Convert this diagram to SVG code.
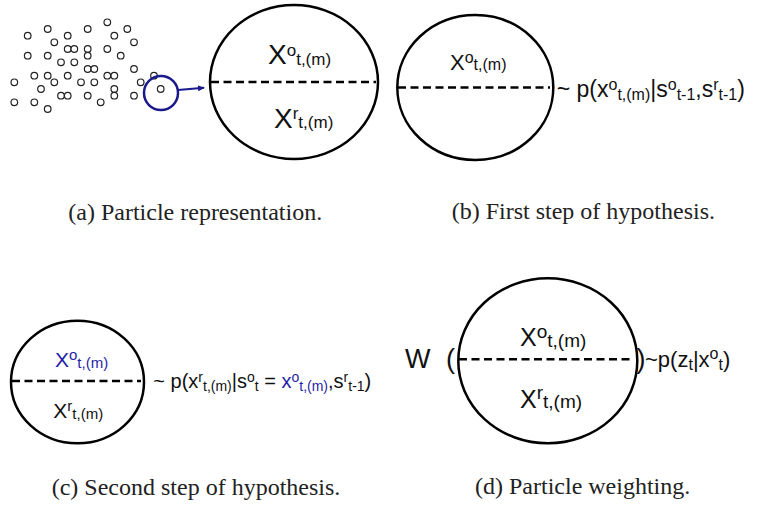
<svg xmlns="http://www.w3.org/2000/svg" width="759" height="510" viewBox="0 0 759 510">
<style>
.ell{fill:none;stroke:#000;stroke-width:2.5}
.dash{stroke:#000;stroke-width:2.6;stroke-dasharray:8 4.5}
.m{font-family:"Liberation Sans",Arial,sans-serif;fill:#111}
.cap{font-family:"Liberation Serif","Times New Roman",serif;font-size:24px;fill:#222}
.p{fill:#fff;stroke:#222;stroke-width:1.2}
.b{fill:#1f1fa8}
</style>
<defs>
<marker id="ah" markerWidth="8" markerHeight="8" refX="6" refY="3" orient="auto" markerUnits="userSpaceOnUse">
<path d="M0,0 L7,3 L0,6 Z" fill="#1a1a8c"/>
</marker>
</defs>
<rect width="759" height="510" fill="#fff"/>

<g id="particles">
<circle class="p" cx="27.7" cy="35.7" r="3.3"/><circle class="p" cx="47.7" cy="29" r="3.3"/><circle class="p" cx="67.7" cy="35.7" r="3.3"/><circle class="p" cx="87.7" cy="29" r="3.3"/><circle class="p" cx="107.3" cy="22.3" r="3.3"/><circle class="p" cx="127.3" cy="29" r="3.3"/><circle class="p" cx="114.3" cy="35.7" r="3.3"/><circle class="p" cx="54.3" cy="42.3" r="3.3"/><circle class="p" cx="134" cy="42.3" r="3.3"/><circle class="p" cx="27.7" cy="55.7" r="3.3"/><circle class="p" cx="47.7" cy="55.7" r="3.3"/><circle class="p" cx="67.7" cy="49" r="3.3"/><circle class="p" cx="74.3" cy="49" r="3.3"/><circle class="p" cx="87.7" cy="49" r="3.3"/><circle class="p" cx="87.7" cy="55.7" r="3.3"/><circle class="p" cx="107.3" cy="49" r="3.3"/><circle class="p" cx="120.7" cy="55.7" r="3.3"/><circle class="p" cx="61" cy="62.3" r="3.3"/><circle class="p" cx="74.3" cy="62.3" r="3.3"/><circle class="p" cx="87.7" cy="69" r="3.3"/><circle class="p" cx="94.3" cy="69" r="3.3"/><circle class="p" cx="134" cy="69" r="3.3"/><circle class="p" cx="154" cy="75.7" r="3.3"/><circle class="p" cx="34.3" cy="75.7" r="3.3"/><circle class="p" cx="47.7" cy="75.7" r="3.3"/><circle class="p" cx="54.3" cy="82.3" r="3.3"/><circle class="p" cx="67.7" cy="75.7" r="3.3"/><circle class="p" cx="81" cy="82.3" r="3.3"/><circle class="p" cx="94.3" cy="82.3" r="3.3"/><circle class="p" cx="107.3" cy="75.7" r="3.3"/><circle class="p" cx="114.3" cy="75.7" r="3.3"/><circle class="p" cx="140.7" cy="82.3" r="3.3"/><circle class="p" cx="14.3" cy="82.3" r="3.3"/><circle class="p" cx="41" cy="89" r="3.3"/><circle class="p" cx="114.3" cy="89" r="3.3"/><circle class="p" cx="61" cy="95.7" r="3.3"/><circle class="p" cx="67.7" cy="95.7" r="3.3"/><circle class="p" cx="87.7" cy="95.7" r="3.3"/><circle class="p" cx="114.3" cy="95.7" r="3.3"/><circle class="p" cx="134" cy="95.7" r="3.3"/><circle class="p" cx="14.3" cy="102.3" r="3.3"/><circle class="p" cx="34.3" cy="102.3" r="3.3"/><circle class="p" cx="47.7" cy="109" r="3.3"/><circle class="p" cx="100.7" cy="102.3" r="3.3"/><circle class="p" cx="160.7" cy="89" r="3.3"/>
</g>
<g id="selected">
<circle cx="161" cy="93" r="17" fill="none" stroke="#1a1a8c" stroke-width="2.5"/>
</g>

<g id="connectors">
<line x1="178" y1="90" x2="204" y2="87.8" stroke="#1a1a8c" stroke-width="2" marker-end="url(#ah)"/>
</g>

<g id="particle-a">
<ellipse class="ell" cx="294" cy="82" rx="84" ry="77"/>
<line class="dash" x1="211" y1="82" x2="376" y2="82"/>
<text class="m" x="268" y="64" font-size="28">X<tspan font-size="17" dy="-8">o</tspan><tspan font-size="17" dy="9">t,(m)</tspan></text>
<text class="m" x="274" y="128" font-size="28">X<tspan font-size="17" dy="-9">r</tspan><tspan font-size="17" dy="9">t,(m)</tspan></text>
</g>

<g id="particle-b">
<ellipse class="ell" cx="475.3" cy="87.5" rx="78" ry="72.5"/>
<line class="dash" x1="398" y1="87.5" x2="550" y2="87.5"/>
<text class="m" x="450" y="70" font-size="22">X<tspan font-size="16" dy="-7">o</tspan><tspan font-size="16" dy="7">t,(m)</tspan></text>
<text class="m" x="556.7" y="97" font-size="23">~ p(x<tspan font-size="16" dy="-7">o</tspan><tspan font-size="16" dy="10">t,(m)</tspan><tspan dy="-3">|s</tspan><tspan font-size="16" dy="-7">o</tspan><tspan font-size="16" dy="10">t-1</tspan><tspan dy="-3">,s</tspan><tspan font-size="16" dy="-7">r</tspan><tspan font-size="16" dy="10">t-1</tspan><tspan dy="-3">)</tspan></text>
</g>

<g id="particle-c">
<ellipse class="ell" cx="77.5" cy="382" rx="66.5" ry="61.3"/>
<line class="dash" x1="12" y1="381" x2="141" y2="381"/>
<text class="m b" x="55" y="366.7" font-size="21">X<tspan font-size="15" dy="-7">o</tspan><tspan font-size="15" dy="8">t,(m)</tspan></text>
<text class="m" x="53.3" y="418" font-size="21">X<tspan font-size="15" dy="-7">r</tspan><tspan font-size="15" dy="8">t,(m)</tspan></text>
<text class="m" x="153.3" y="388" font-size="20">~ p(x<tspan font-size="14" dy="-6">r</tspan><tspan font-size="14" dy="9">t,(m)</tspan><tspan dy="-3">|s</tspan><tspan font-size="14" dy="-6">o</tspan><tspan font-size="14" dy="9">t</tspan><tspan dy="-3"> = </tspan><tspan class="b">x</tspan><tspan class="b" font-size="14" dy="-6">o</tspan><tspan class="b" font-size="14" dy="9">t,(m)</tspan><tspan dy="-3">,s</tspan><tspan font-size="14" dy="-6">r</tspan><tspan font-size="14" dy="9">t-1</tspan><tspan dy="-3">)</tspan></text>
</g>

<g id="particle-d">
<ellipse class="ell" cx="547.8" cy="360.8" rx="89.5" ry="82.5"/>
<line class="dash" x1="459" y1="359.3" x2="633" y2="359.3"/>
<text class="m" x="405" y="368.3" font-size="27">W</text>
<text class="m" x="446" y="368.3" font-size="27">(</text>
<text class="m" x="520" y="345.7" font-size="25">X<tspan font-size="19" dy="-8">o</tspan><tspan font-size="19" dy="9">t,(m)</tspan></text>
<text class="m" x="520" y="408.3" font-size="25">X<tspan font-size="19" dy="-9">r</tspan><tspan font-size="19" dy="9">t,(m)</tspan></text>
<text class="m" x="636.5" y="368.3" font-size="27">)</text>
<text class="m" x="645" y="367" font-size="22">~p(z<tspan font-size="16" dy="3">t</tspan><tspan dy="-3">|x</tspan><tspan font-size="16" dy="-8">o</tspan><tspan font-size="16" dy="11">t</tspan><tspan dy="-3">)</tspan></text>
</g>

<g id="captions">
<text class="cap" x="68.3" y="220">(a) Particle representation.</text>
<text class="cap" x="451.7" y="219">(b) First step of hypothesis.</text>
<text class="cap" x="51.7" y="495">(c) Second step of hypothesis.</text>
<text class="cap" x="475" y="494">(d) Particle weighting.</text>
</g>
</svg>
